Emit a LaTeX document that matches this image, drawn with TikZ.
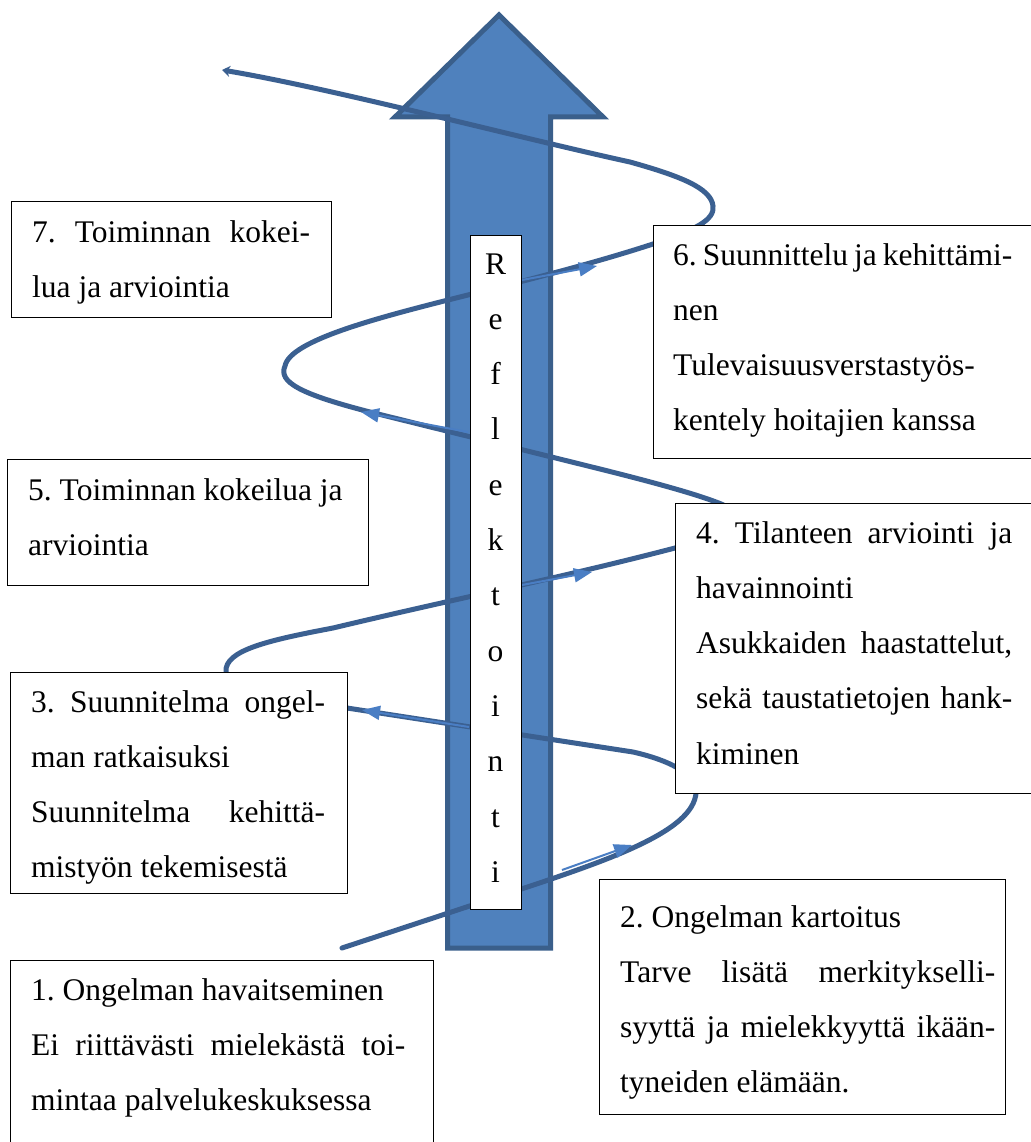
\documentclass[tikz,border=0pt]{standalone}
\usepackage{fontspec}
\setmainfont{Liberation Serif}
\frenchspacing
\usetikzlibrary{arrows.meta}
\definecolor{arrowfill}{HTML}{4F81BD}
\definecolor{arrowline}{HTML}{3A5F8B}
\definecolor{spiralcol}{HTML}{3B6091}
\definecolor{midcol}{HTML}{4A7EC4}
\newcommand\JL[1]{\makebox[\linewidth][s]{#1}\par}
\newcommand\NL[1]{\mbox{#1}\par}
\tikzset{
  txtbox/.style={draw=black, line width=1.2pt, fill=white, anchor=north west, inner sep=0pt},
  boxtext/.style={anchor=base west, inner sep=0pt, font={\frenchspacing\fontsize{31.5}{55.3}\selectfont}},
  spiralline/.style={draw=spiralcol, line width=5pt},
  midarrow/.style={draw=midcol, line width=2pt, -{Triangle[length=18pt,width=14pt]}},
  bigarrow/.style={fill=arrowfill, draw=arrowline, line width=5pt, line join=miter},
}
\begin{document}
\begin{tikzpicture}[x=1pt,y=-1pt]
\useasboundingbox (0,0) rectangle (1030,1142);
\fill[white] (0,0) rectangle (1030,1142);

% big upward arrow
\draw[bigarrow] (447.5,948) -- (447.5,117) -- (395,117) -- (499,15) -- (603,117) -- (550.5,117) -- (550.5,948) -- cycle;

% spiral coordinates
\coordinate (s0) at (342,948);
\coordinate (s1) at (500,896);
\coordinate (s2) at (696,788);
\coordinate (s3) at (633,752);
\coordinate (s4) at (347,708);
\coordinate (s5) at (226,672);
\coordinate (s6) at (333,628);
\coordinate (s7) at (675,548);
\coordinate (s8) at (716,502);
\coordinate (s9) at (600,469);
\coordinate (s10) at (370,412);
\coordinate (s11) at (285,366);
\coordinate (s12) at (468,295);
\coordinate (s13) at (653,244);
\coordinate (s14) at (713,206);
\coordinate (s15) at (630,162);
\coordinate (s16) at (222,70);

\draw[spiralline, line cap=round, -{Stealth[length=8pt,width=11pt]}]
  (s0) -- (s1)
  .. controls (610,860) and (700,830) .. (s2)
  .. controls (692,770) and (660,758) .. (s3)
  -- (s4)
  .. controls (280,697) and (224,692) .. (s5)
  .. controls (224,650) and (270,640) .. (s6)
  .. controls (450,600) and (560,578) .. (s7)
  .. controls (745,530) and (745,512) .. (s8)
  .. controls (690,492) and (640,479) .. (s9)
  -- (s10)
  .. controls (300,394) and (278,382) .. (s11)
  .. controls (290,340) and (380,317) .. (s12)
  .. controls (560,272) and (610,258) .. (s13)
  .. controls (695,230) and (715,220) .. (s14)
  .. controls (711,188) and (680,176) .. (s15)
  .. controls (520,138) and (330,88) .. (s16);

% mid-line arrows
\coordinate (a1s) at (562,870); \coordinate (a1t) at (632,845);
\coordinate (a2s) at (469,727); \coordinate (a2t) at (362,710);
\coordinate (a3s) at (522,585); \coordinate (a3t) at (592,572);
\coordinate (a4s) at (468,432); \coordinate (a4t) at (361,412);
\coordinate (a5s) at (522,280); \coordinate (a5t) at (597,266);
\draw[midarrow] (a1s) -- (a1t);
\draw[midarrow] (a2s) -- (a2t);
\draw[midarrow] (a3s) -- (a3t);
\draw[midarrow] (a4s) -- (a4t);
\draw[midarrow] (a5s) -- (a5t);

% reflection box
\node[txtbox, minimum width=51pt, minimum height=674pt] (reflbox) at (470,235) {};
\node[anchor=base, inner sep=0pt, font={\fontsize{31.5}{55.3}\selectfont}] (refl) at (495.5,274)
  {\parbox[t]{40pt}{\centering R\par e\par f\par l\par e\par k\par t\par o\par i\par n\par t\par i\par}};

% text boxes
\node[txtbox, minimum width=320pt, minimum height=116pt] (box7) at (11,201) {};
\node[boxtext] (t7) at (32,242) {\parbox[t]{278pt}{\JL{7. Toiminnan kokei-}\NL{lua ja arviointia}}};

\node[txtbox, minimum width=380pt, minimum height=233pt] (box6) at (653,225) {};
\node[boxtext] (t6) at (673,265) {\parbox[t]{339pt}{\JL{6. Suunnittelu ja kehittämi-}\NL{nen}\NL{Tulevaisuusverstastyös-}\NL{kentely hoitajien kanssa}}};

\node[txtbox, minimum width=361pt, minimum height=126pt] (box5) at (7,459) {};
\node[boxtext] (t5) at (28,500) {\parbox[t]{330pt}{\NL{5. Toiminnan kokeilua ja}\NL{arviointia}}};

\node[txtbox, minimum width=360pt, minimum height=290pt] (box4) at (675,503) {};
\node[boxtext] (t4) at (696,543) {\parbox[t]{316pt}{\JL{4. Tilanteen arviointi ja}\NL{havainnointi}\JL{Asukkaiden haastattelut,}\JL{sekä taustatietojen hank-}\NL{kiminen}}};

\node[txtbox, minimum width=337pt, minimum height=221pt] (box3) at (10,672) {};
\node[boxtext] (t3) at (31,712) {\parbox[t]{294pt}{\JL{3. Suunnitelma ongel-}\NL{man ratkaisuksi}\JL{Suunnitelma kehittä-}\NL{mistyön tekemisestä}}};

\node[txtbox, minimum width=406pt, minimum height=235pt] (box2) at (599,879) {};
\node[boxtext] (t2) at (620,927) {\parbox[t]{375pt}{\NL{2. Ongelman kartoitus}\JL{Tarve lisätä merkitykselli-}\JL{syyttä ja mielekkyyttä ikään-}\NL{tyneiden elämään.}}};

\node[txtbox, minimum width=423pt, minimum height=200pt] (box1) at (10,960) {};
\node[boxtext] (t1) at (31,1000) {\parbox[t]{374pt}{\NL{1. Ongelman havaitseminen}\JL{Ei riittävästi mielekästä toi-}\NL{mintaa palvelukeskuksessa}}};
\end{tikzpicture}
\end{document}
